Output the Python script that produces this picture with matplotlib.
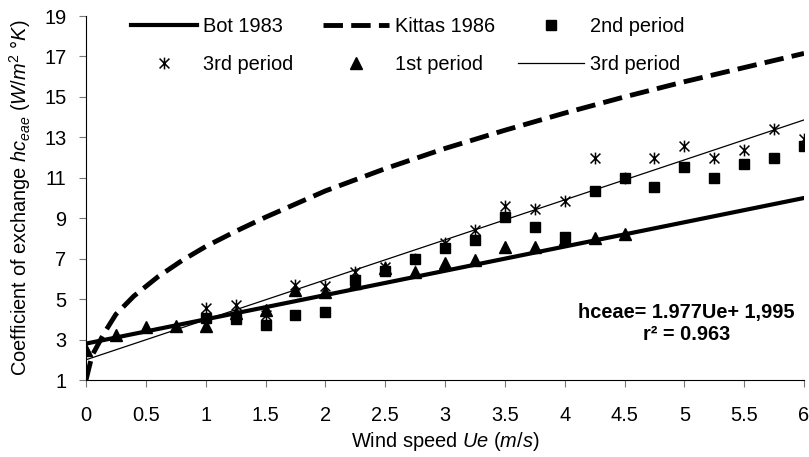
import numpy as np
import matplotlib.pyplot as plt
from matplotlib.path import Path

plt.rcParams['font.family'] = ['Liberation Sans', 'DejaVu Sans']
plt.rcParams['mathtext.fontset'] = 'custom'
plt.rcParams['mathtext.rm'] = 'Liberation Sans'
plt.rcParams['mathtext.it'] = 'Liberation Sans:italic'
plt.rcParams['mathtext.bf'] = 'Liberation Sans:bold'

FS = 14.4

# model curves
bot_x = [0, 6]
bot_y = [2.8, 10.0]

kittas_x = [0, 0.05, 0.15, 0.25, 0.4, 0.6, 0.8, 1.0, 1.25, 1.5, 1.75, 2.0,
            2.5, 3.0, 3.5, 4.0, 4.5, 5.0, 5.5, 6.0]
kittas_y = [1.0, 2.2, 3.3, 4.25, 5.15, 6.1, 6.9, 7.6, 8.35, 9.05, 9.7, 10.35,
            11.45, 12.45, 13.35, 14.2, 15.0, 15.75, 16.45, 17.15]

fit_x = [0, 6]
fit_y = [2.0, 13.86]

# measured points
p1_x = [0, 0.25, 0.5, 0.75, 1, 1.25, 1.5, 1.75, 2, 2.25, 2.5, 2.75, 3, 3.25,
        3.5, 3.75, 4, 4.25, 4.5]
p1_y = [2.5, 3.25, 3.6, 3.65, 3.65, 4.3, 4.45, 5.45, 5.35, 5.8, 6.55, 6.35,
        6.8, 6.95, 7.6, 7.6, 7.95, 8.0, 8.2]

p2_x = [1, 1.25, 1.5, 1.75, 2, 2.25, 2.5, 2.75, 3, 3.25, 3.5, 3.75, 4, 4.25,
        4.5, 4.75, 5, 5.25, 5.5, 5.75, 6]
p2_y = [4.05, 4.0, 3.7, 4.2, 4.35, 5.95, 6.4, 7.0, 7.55, 7.92, 9.05, 8.58,
        8.05, 10.36, 11.0, 10.56, 11.55, 10.97, 11.67, 12.0, 12.57]

p3_x = [1, 1.25, 1.5, 1.75, 2, 2.25, 2.5, 2.75, 3, 3.25, 3.5, 3.75, 4, 4.25,
        4.5, 4.75, 5, 5.25, 5.5, 5.75, 6]
p3_y = [4.55, 4.71, 4.2, 5.7, 5.65, 6.36, 6.6, 7.0, 7.76, 8.42, 9.6, 9.47,
        9.87, 12.0, 11.0, 12.0, 12.57, 12.0, 12.37, 13.4, 12.9]

# excel-style asterisk: X with a vertical bar
ast = Path([(-1, -1), (1, 1), (-1, 1), (1, -1), (0, -1.2), (0, 1.2)],
           [Path.MOVETO, Path.LINETO, Path.MOVETO, Path.LINETO, Path.MOVETO, Path.LINETO])

fig = plt.figure(figsize=(8.09, 4.57), dpi=100)
ax = fig.add_axes([86 / 809, 77 / 457, 718 / 809, 364 / 457])

l_bot, = ax.plot(bot_x, bot_y, color='black', lw=3.0, label='Bot 1983', zorder=3)
l_kit, = ax.plot(kittas_x, kittas_y, color='black', lw=3.5, dashes=(4, 1.7),
                 label='Kittas 1986', zorder=3)
l_fit, = ax.plot(fit_x, fit_y, color='black', lw=0.9, label='3rd period', zorder=3)
m2, = ax.plot(p2_x, p2_y, ls='none', marker='s', ms=7.5, color='black',
              label='2nd period', zorder=4)
m1, = ax.plot(p1_x, p1_y, ls='none', marker='^', ms=8, color='black',
              label='1st period', zorder=4)
m3, = ax.plot(p3_x, p3_y, ls='none', marker=ast, ms=8.5, mew=1.1, mfc='none',
              color='black', label='3rd period', zorder=5)

ax.set_xlim(0, 6)
ax.set_ylim(1, 19)
ax.set_xticks(np.arange(0, 6.01, 0.5))
ax.set_xticklabels(['0', '0.5', '1', '1.5', '2', '2.5', '3', '3.5', '4', '4.5',
                    '5', '5.5', '6'])
ax.set_yticks(np.arange(1, 20, 2))
for s in ['top', 'right']:
    ax.spines[s].set_visible(False)
ax.tick_params(axis='both', direction='out', length=5, width=0.8, color='#777777',
               labelsize=FS)
ax.tick_params(axis='x', pad=14)
ax.tick_params(axis='y', pad=9)

ax.set_xlabel(r'Wind speed $\mathit{Ue\ (m/s)}$', fontsize=FS, labelpad=3)
ax.set_ylabel(r'Coefficient of exchange $\mathit{hc}_{\mathit{eae}}$ $\mathit{(W/m^{2}\ °K)}$',
              fontsize=FS, labelpad=8)

ax.text(0.836, 0.155, 'hceae= 1.977Ue+ 1,995\nr² = 0.963', transform=ax.transAxes,
        ha='center', va='center', fontsize=FS, fontweight='bold',
        multialignment='center', linespacing=1.2)

# legend laid out as three separate columns, like the excel original
columns = [([l_bot, m3], 131), ([l_kit, m1], 323), ([m2, l_fit], 518)]
for hs, xpix in columns:
    fig.legend(hs, [h.get_label() for h in hs], loc='upper left',
               bbox_to_anchor=(xpix / 809, 1 - 17 / 457), frameon=False,
               fontsize=FS, handlelength=3.3, handletextpad=0.3,
               labelspacing=0.95, borderpad=0, borderaxespad=0)

fig.savefig('out.png', dpi=100)
